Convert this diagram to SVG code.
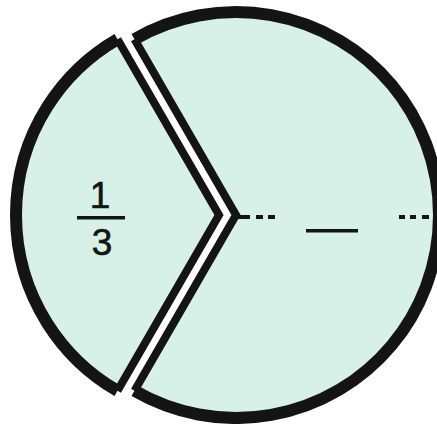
<svg xmlns="http://www.w3.org/2000/svg" width="437" height="424" viewBox="0 0 437 424">
<style>
.fill{fill:#d7f1e8;stroke:none}
.edge{fill:none;stroke:#141414;stroke-width:8;stroke-linejoin:miter;stroke-miterlimit:10}
.rim{fill:none;stroke:#141414;stroke-width:12}
.mark{fill:#141414}
.num{font-family:"Liberation Sans","DejaVu Sans",sans-serif;font-size:37px;fill:#141414;text-anchor:middle;stroke:#141414;stroke-width:0.6}
</style>
<rect width="437" height="424" fill="#ffffff"/>
<g id="big-piece">
<path class="fill" d="M 236 215 L 134.5 39.2 A 203 203 0 1 1 134.5 390.8 Z"/>
<path class="edge" d="M 134.5 39.2 L 236 215 L 134.5 390.8"/>
<path class="rim" d="M 134.5 39.2 A 203 203 0 1 1 134.5 390.8"/>
</g>
<g id="third-piece">
<path class="fill" d="M 219 215 L 117.5 39.2 A 203 203 0 0 0 117.5 390.8 Z"/>
<path class="edge" d="M 117.5 39.2 L 219 215 L 117.5 390.8"/>
<path class="rim" d="M 117.5 39.2 A 203 203 0 0 0 117.5 390.8"/>
<text class="num" x="100" y="208">1</text>
<rect class="mark" x="77" y="216" width="48" height="3.5"/>
<text class="num" x="102" y="255">3</text>
</g>
<g id="connectors">
<rect class="mark" x="238" y="215" width="12" height="4"/>
<rect class="mark" x="256" y="215" width="7" height="4"/>
<rect class="mark" x="268" y="215" width="7" height="4"/>
<rect class="mark" x="306" y="229" width="52" height="3.5"/>
<rect class="mark" x="399" y="215" width="6" height="4"/>
<rect class="mark" x="410" y="215" width="6" height="4"/>
<rect class="mark" x="422" y="215" width="7" height="4"/>
</g>
</svg>
